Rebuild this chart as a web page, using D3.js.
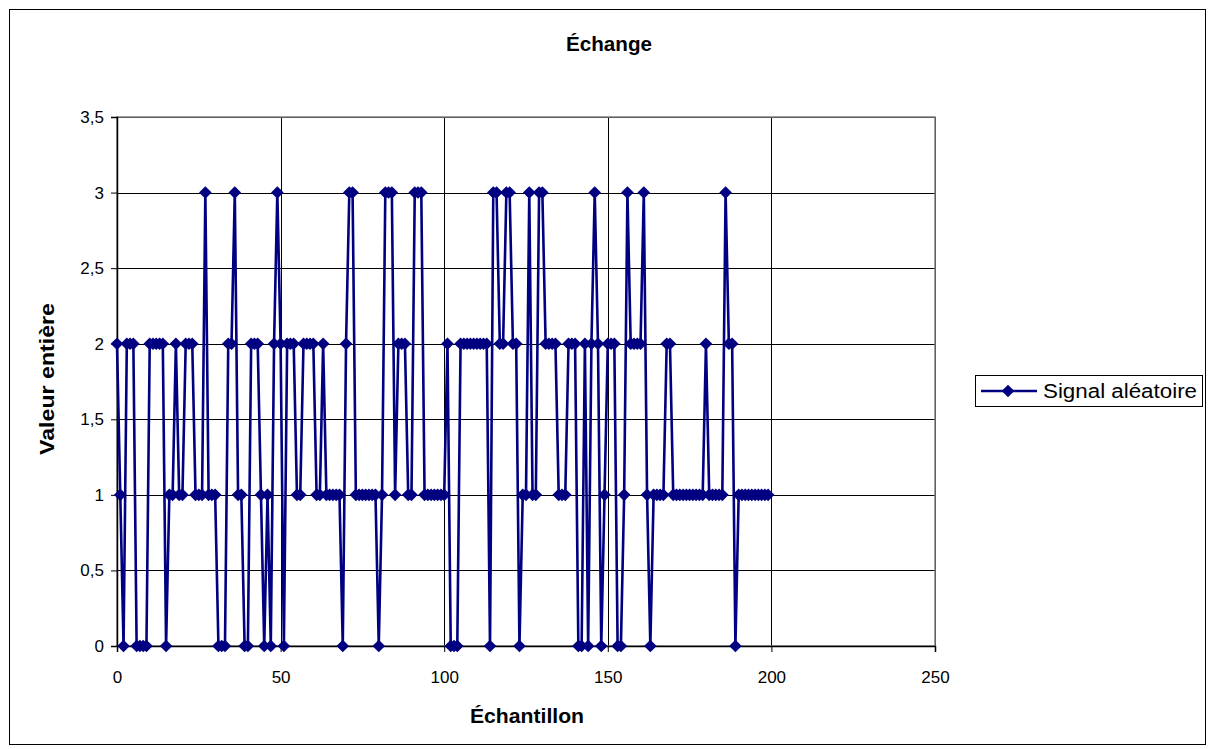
<!DOCTYPE html>
<html><head><meta charset="utf-8">
<script src="https://cdn.jsdelivr.net/npm/d3@7"></script>
<style>body{margin:0;background:#fff}svg{display:block}text{font-family:"Liberation Sans",Arial,sans-serif}</style>
</head><body><svg id="c" width="1211" height="749"></svg>
<script>
const title = "Échange";
const xTitle = "Échantillon";
const yTitle = "Valeur entière";
const seriesName = "Signal aléatoire";
const xTicks = [0, 50, 100, 150, 200, 250];
const yTicks = [0, 0.5, 1, 1.5, 2, 2.5, 3, 3.5];
const values = [
 2,1,0,2,2,2,0,0,0,0, 2,2,2,2,2,0,1,1,2,1,
 1,2,2,2,1,1,1,3,1,1, 1,0,0,0,2,2,3,1,1,0,
 0,2,2,2,1,0,1,0,2,3, 2,0,2,2,2,1,1,2,2,2,
 2,1,1,2,1,1,1,1,1,0, 2,3,3,1,1,1,1,1,1,1,
 0,1,3,3,3,1,2,2,2,1, 1,3,3,3,1,1,1,1,1,1,
 1,2,0,0,0,2,2,2,2,2, 2,2,2,2,0,3,3,2,2,3,
 3,2,2,0,1,1,3,1,1,3, 3,2,2,2,2,1,1,1,2,2,
 2,0,0,2,0,2,3,2,0,1, 2,2,2,0,0,1,3,2,2,2,
 2,3,1,0,1,1,1,1,2,2, 1,1,1,1,1,1,1,1,1,1,
 2,1,1,1,1,1,3,2,2,0, 1,1,1,1,1,1,1,1,1,1
];
const samples = values.map((v, i) => i);

const svg = d3.select("#c");
const navy = "#000080";
const L = 117, R = 935, T = 117, B = 646;

svg.append("rect").attr("x", 9.5).attr("y", 9.5).attr("width", 1196).attr("height", 735)
  .attr("fill", "#fff").attr("stroke", "#000").attr("stroke-width", 1);

const x = d3.scaleLinear().domain([0, 250]).range([L, R]);
const y = d3.scaleLinear().domain([0, 3.5]).range([B, T]);

const g = svg.append("g");
g.selectAll(".hg").data(yTicks).join("line")
  .attr("x1", L).attr("x2", R).attr("y1", d => Math.round(y(d)) + 0.5).attr("y2", d => Math.round(y(d)) + 0.5)
  .attr("stroke", "#000").attr("stroke-width", 1);
g.selectAll(".vg").data(xTicks).join("line")
  .attr("y1", T).attr("y2", B).attr("x1", d => Math.round(x(d)) + 0.5).attr("x2", d => Math.round(x(d)) + 0.5)
  .attr("stroke", "#000").attr("stroke-width", 1);
svg.append("rect").attr("x", L).attr("y", T).attr("width", R - L).attr("height", B - T)
  .attr("fill", "none").attr("stroke", "#808080").attr("stroke-width", 1.5);

const ax = svg.append("g").attr("transform", `translate(0,${B})`)
  .call(d3.axisBottom(x).tickValues(xTicks).tickSize(6).tickPadding(19).tickFormat(d3.format("d")));
const ay = svg.append("g").attr("transform", `translate(${L},0)`)
  .call(d3.axisLeft(y).tickValues(yTicks).tickSize(6).tickPadding(7).tickFormat(d => String(d).replace(".", ",")));
[ax, ay].forEach(a => {
  a.selectAll("path").attr("stroke", "#000").attr("stroke-width", 1.5);
  a.selectAll("line").attr("stroke", "#000");
  a.selectAll("text").attr("font-size", 17).attr("fill", "#000").attr("font-family", "Liberation Sans, Arial, sans-serif");
});

const line = d3.line().x((d, i) => x(samples[i])).y(d => y(d));
svg.append("path").datum(values).attr("d", line).attr("fill", "none")
  .attr("stroke", navy).attr("stroke-width", 2.6).attr("stroke-linejoin", "round");

const diamond = { draw(ctx, size) { const r = Math.sqrt(size / 2); ctx.moveTo(0, -r); ctx.lineTo(r, 0); ctx.lineTo(0, r); ctx.lineTo(-r, 0); ctx.closePath(); } };
const sym = d3.symbol().type(diamond).size(2 * 6.3 * 6.3);
svg.append("g").selectAll("path").data(values).join("path")
  .attr("d", sym).attr("transform", (d, i) => `translate(${x(samples[i])},${y(d)})`)
  .attr("fill", navy);

svg.append("text").attr("x", 609).attr("y", 51).attr("text-anchor", "middle")
  .attr("font-size", 20).attr("font-weight", "bold").attr("textLength", 86).attr("lengthAdjust", "spacingAndGlyphs").text(title);
svg.append("text").attr("x", 527).attr("y", 723).attr("text-anchor", "middle")
  .attr("font-size", 20).attr("font-weight", "bold").attr("textLength", 114).attr("lengthAdjust", "spacingAndGlyphs").text(xTitle);
svg.append("text").attr("transform", "translate(54,379) rotate(-90)").attr("text-anchor", "middle")
  .attr("font-size", 20).attr("font-weight", "bold").attr("textLength", 152).attr("lengthAdjust", "spacingAndGlyphs").text(yTitle);

const lg = svg.append("g");
lg.append("rect").attr("x", 975.5).attr("y", 375.5).attr("width", 227).attr("height", 31)
  .attr("fill", "#fff").attr("stroke", "#000").attr("stroke-width", 1);
lg.append("line").attr("x1", 981).attr("x2", 1037).attr("y1", 391).attr("y2", 391)
  .attr("stroke", navy).attr("stroke-width", 2.6);
lg.append("path").attr("d", sym).attr("transform", "translate(1008,391)").attr("fill", navy);
lg.append("text").attr("x", 1043).attr("y", 398).attr("font-size", 20)
  .attr("textLength", 154).attr("lengthAdjust", "spacingAndGlyphs").text(seriesName);
</script></body></html>
